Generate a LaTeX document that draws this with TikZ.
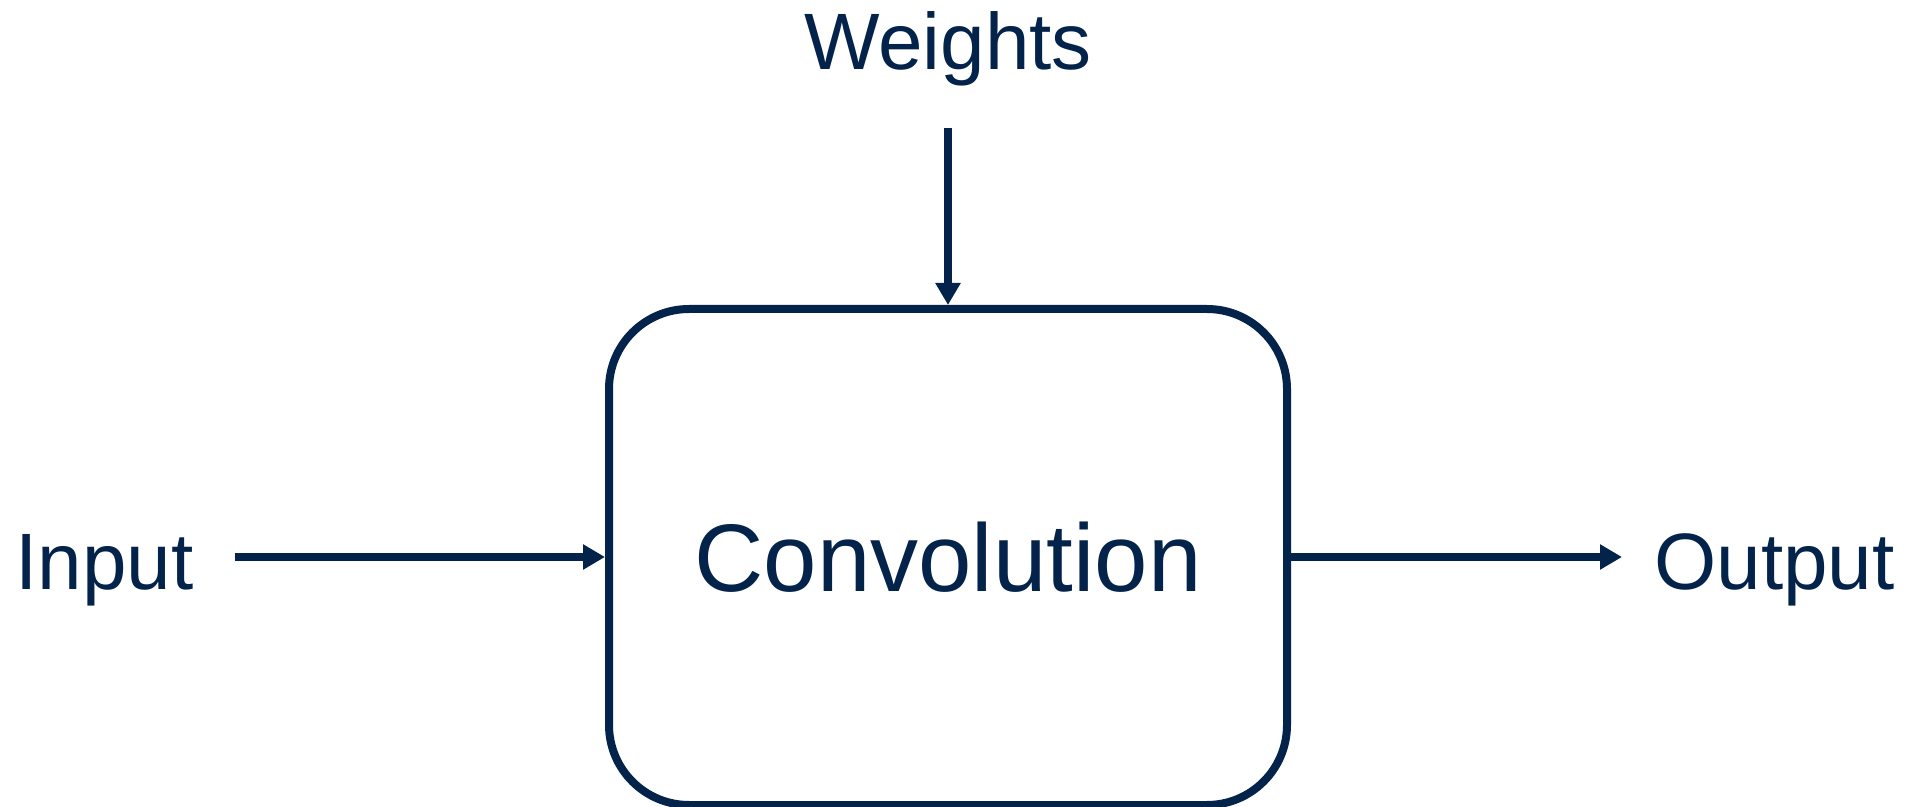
\documentclass[tikz,border=0pt]{standalone}
\usepackage{fontspec}
\setmainfont{Liberation Sans}
\usetikzlibrary{arrows.meta}
\definecolor{navy}{RGB}{3,35,74}
\begin{document}
\begin{tikzpicture}[x=0.5pt,y=-0.5pt,
  lbl/.style={inner sep=0pt,text=navy,font=\fontsize{40pt}{48pt}\selectfont},
  conv/.style={draw=navy,line width=4pt,rounded corners=40pt,minimum width=339pt,minimum height=248pt,text=navy,font=\fontsize{48pt}{56pt}\selectfont},
  arr/.style={draw=navy,line width=4pt,-{Triangle[length=11pt,width=12pt]}}]
\useasboundingbox (0,0) rectangle (1928,807);
\node[conv] (box) at (948,557) {Convolution};
\node[lbl,anchor=base] (w) at (948,70) {Weights};
\node[lbl,anchor=base west] (in) at (15,589) {Input};
\node[lbl,anchor=base west] (out) at (1654,589) {Output};
\coordinate (wa) at (948,128);
\coordinate (ia) at (235,557);
\coordinate (oa) at (1622,557);
\draw[arr] (wa) -- (box.north);
\draw[arr] (ia) -- (box.west);
\draw[arr] (box.east) -- (oa);
\end{tikzpicture}
\end{document}
